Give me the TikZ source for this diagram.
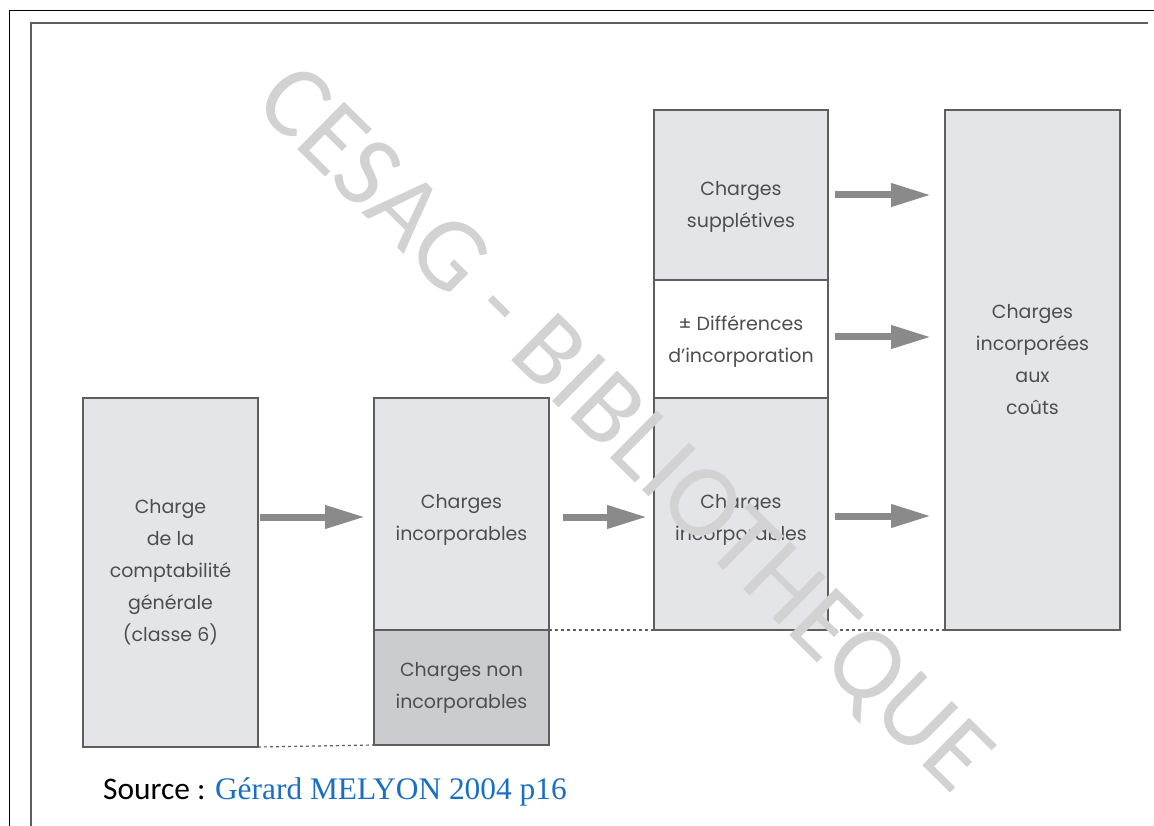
\documentclass[tikz,border=0pt]{standalone}
\usepackage{fontspec}
\usetikzlibrary{arrows.meta,calc}
\newfontfamily\boxfont{Poppins}
\newfontfamily\notefont{Carlito}
\newfontfamily\citefont{Liberation Serif}
\newfontfamily\stampfont{Carlito}
\definecolor{boxfill}{HTML}{E3E5E9}
\definecolor{boxdark}{HTML}{CACCCF}
\definecolor{boxline}{HTML}{5E5E5E}
\definecolor{boxtext}{HTML}{4E4E4E}
\definecolor{arrowgray}{HTML}{8A8A8A}
\definecolor{citeblue}{HTML}{1A6FC4}
\definecolor{stampgray}{HTML}{D2D2D2}

\begin{document}
\begin{tikzpicture}[x=1pt,y=-1pt,
  box/.style={draw=boxline, line width=1.8pt, fill=boxfill, inner sep=0pt,
    outer sep=0pt, align=center, text=boxtext,
    font=\boxfont\fontsize{19}{32}\selectfont},
  caption/.style={inner sep=0pt, align=center, text=boxtext,
    font=\boxfont\fontsize{19}{32}\selectfont},
  flow/.style={draw=arrowgray, line width=7pt,
    -{Triangle[length=40pt,width=22pt]}},
  level/.style={draw=boxline, line width=1.2pt, dash pattern=on 3pt off 3pt}]

\useasboundingbox (0,0) rectangle (1154,826);
\fill[white] (0,0) rectangle (1154,826);

% page frames
\draw[black, line width=1.2pt] (9.5,826) -- (9.5,10.5) -- (1154,10.5);
\draw[boxline, line width=2.2pt] (31,826) -- (31,23) -- (1148,23);

% boxes
\node[box, minimum width=175pt, minimum height=349pt] (gen) at (170.5,572.5)
  {Charge\\de la\\comptabilité\\générale\\(classe 6)};
\node[box, minimum width=175pt, minimum height=232pt] (incl) at (461.5,514) {};
\node[box, fill=boxdark, minimum width=175pt, minimum height=115pt] (excl) at (461.5,687.5)
  {Charges non\\incorporables};
\node[box, minimum width=174pt, minimum height=170pt] (supp) at (741,195) {};
\node[box, fill=white, minimum width=174pt, minimum height=118pt] (diff) at (741,339) {};
\node[box, minimum width=174pt, minimum height=232pt] (incr) at (741,514) {};
\node[box, minimum width=175pt, minimum height=520pt] (total) at (1032.5,370) {};

% box captions
\node[caption] (incltxt) at ($(incl.center)+(0,6)$) {Charges\\incorporables};
\node[caption] (supptxt) at ($(supp.center)+(0,12)$) {Charges\\supplétives};
\node[caption] (difftxt) at ($(diff.center)+(0,3)$) {± Différences\\d’incorporation};
\node[caption] (incrtxt) at ($(incr.center)+(0,6)$) {Charges\\incorporables};
\node[caption] (totaltxt) at ($(total.center)+(0,-10)$) {Charges\\incorporées\\aux\\coûts};

% level guides
\draw[level] (gen.south east) -- (excl.south west);
\draw[level] (incl.south east) -- (incr.south west);
\draw[level] (incr.south east) -- (total.south west |- incr.south);

% flows
\draw[flow] ($(gen.east |- incl.center)+(2,3)$) -- ($(incl.west |- incl.center)+(-9,3)$);
\draw[flow] ($(incl.east)+(14,3)$) -- ($(incr.west |- incl.east)+(-7,3)$);
\draw[flow] ($(supp.east)+(7,0)$) -- ($(total.west |- supp.east)+(-14,0)$);
\draw[flow] ($(diff.east)+(7,-2)$) -- ($(total.west |- diff.east)+(-14,-2)$);
\draw[flow] ($(incr.east)+(7,2)$) -- ($(total.west |- incr.east)+(-14,2)$);

% source line
\node[anchor=base west, inner sep=0pt] (src) at (103,799)
  {\notefont\fontsize{31.4}{36}\selectfont Source : \citefont\color{citeblue}Gérard MELYON 2004 p16};

% library stamp
\node[text=stampgray, rotate=-44.6, inner sep=0pt] (stamp) at (622,432)
  {\stampfont\fontsize{104}{114}\selectfont CESAG - BIBLIOTHEQUE};
\end{tikzpicture}
\end{document}
